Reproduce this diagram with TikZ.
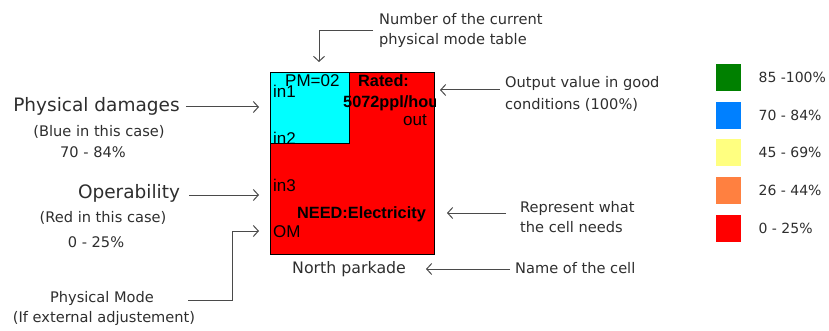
\documentclass[tikz,border=0pt]{standalone}
\usepackage{fontspec}
\setmainfont{DejaVu Sans}
\newfontfamily\arialfont{Liberation Sans}
\usetikzlibrary{arrows.meta}
\definecolor{annot}{HTML}{2E2E2E}
\definecolor{conn}{HTML}{4A4A4A}
\definecolor{lgreen}{RGB}{0,128,0}
\definecolor{lblue}{RGB}{0,128,255}
\definecolor{lyellow}{RGB}{255,255,128}
\definecolor{lorange}{RGB}{255,128,64}
\definecolor{lred}{RGB}{255,0,0}
\definecolor{pmcyan}{RGB}{0,255,255}
\begin{document}
\begin{tikzpicture}[x=1pt,y=-1pt,
  arr/.style={draw=conn, line width=1pt, -{Straight Barb[length=5pt,width=11pt,line width=1pt]}},
  ann/.style={inner sep=0pt, text=annot, font=\fontsize{14.6}{17}\selectfont, anchor=base},
  annl/.style={ann, anchor=base west},
  big/.style={inner sep=0pt, text=annot, font=\fontsize{18.5}{22}\selectfont, anchor=base},
  cellt/.style={inner sep=0pt, font=\arialfont\fontsize{17}{20}\selectfont, anchor=base west},
  boldt/.style={inner sep=0pt, font=\arialfont\bfseries\fontsize{16.3}{19}\selectfont, anchor=base west},
  boxst/.style={draw=black, line width=1pt, inner sep=0pt, anchor=north west},
  legbox/.style={minimum width=25pt, minimum height=27pt, inner sep=0pt, anchor=north west},
  legt/.style={inner sep=0pt, text=annot, font=\fontsize{14}{17}\selectfont, anchor=west}]
\useasboundingbox (0,0) rectangle (829,331);

% the cell
\node[boxst, fill=lred, minimum width=164pt, minimum height=182pt] (cell) at (270,72) {};
\node[boxst, fill=pmcyan, minimum width=79pt, minimum height=71pt] (pmbox) at (270,72) {};

\begin{scope}
  \clip (cell.north west) rectangle (cell.south east);
  \node[cellt] (pm) at (285,87) {PM=02};
  \node[cellt] (in1) at (273,98) {in1};
  \node[boldt] (rated) at (358,87) {Rated:};
  \node[boldt] (rate) at (343,108) {5072ppl/hou};
  \node[cellt] (out) at (403,126) {out};
  \node[cellt] (in2) at (273,145) {in2};
  \node[cellt] (in3) at (273,192) {in3};
  \node[boldt] (need) at (297,218) {NEED:Electricity};
  \node[cellt] (om) at (273,237) {OM};
\end{scope}
\node[inner sep=0pt, text=annot, font=\fontsize{15.8}{18}\selectfont, anchor=base west] (name) at (292,273) {North parkade};

% top annotation
\node[annl] (num1) at (379,25) {Number of the current};
\node[annl] (num2) at (379,45) {physical mode table};
\coordinate (numk) at (319,31);
\coordinate (numtip) at (319,62);
\draw[arr, shorten <=6pt] (num1.west |- numk) -- (numk) -- (numtip);

% right annotations
\node[annl] (outv1) at (505,88) {Output value in good};
\node[annl] (outv2) at (505,110) {conditions (100\%)};
\coordinate (outtip) at (440,90);
\draw[arr, shorten <=5pt] (outv1.west |- outtip) -- (outtip);

\node[annl] (rep1) at (520,212) {Represent what};
\node[annl] (rep2) at (520,232) {the cell needs};
\coordinate (reptip) at (447,213);
\draw[arr, shorten <=14pt] (rep1.west |- reptip) -- (reptip);

\node[annl] (namec) at (515,273) {Name of the cell};
\coordinate (nametip) at (426,269);
\draw[arr, shorten <=5pt] (namec.west |- nametip) -- (nametip);

% left annotations
\node[big] (pd) at (96.5,112) {Physical damages};
\node[ann] (pd2) at (99,137) {(Blue in this case)};
\node[ann] (pd3) at (93,158) {70 - 84\%};
\coordinate (pdtip) at (259,107);
\draw[arr, shorten <=6pt] (pd.east |- pdtip) -- (pdtip);

\node[big] (op) at (129,198) {Operability};
\node[ann] (op2) at (103,222) {(Red in this case)};
\node[ann] (op3) at (96,247) {0 - 25\%};
\coordinate (optip) at (259,195);
\draw[arr, shorten <=9pt] (op.east |- optip) -- (optip);

\node[ann] (pmd) at (102,302) {Physical Mode};
\node[ann] (pmd2) at (104,322) {(If external adjustement)};
\coordinate (pmk) at (232,300);
\coordinate (pmtip) at (259,231);
\draw[arr, shorten <=34pt] (pmd.east |- pmk) -- (pmk) |- (pmtip);

% legend
\node[legbox, fill=lgreen] (lg1) at (716,64) {};
\node[legbox, fill=lblue] (lg2) at (716,102) {};
\node[legbox, fill=lyellow] (lg3) at (716,139) {};
\node[legbox, fill=lorange] (lg4) at (716,177) {};
\node[legbox, fill=lred] (lg5) at (716,215) {};
\node[legt] (lt1) at ([xshift=17pt]lg1.east) {85 -100\%};
\node[legt] (lt2) at ([xshift=17pt]lg2.east) {70 - 84\%};
\node[legt] (lt3) at ([xshift=17pt]lg3.east) {45 - 69\%};
\node[legt] (lt4) at ([xshift=17pt]lg4.east) {26 - 44\%};
\node[legt] (lt5) at ([xshift=17pt]lg5.east) {0 - 25\%};
\end{tikzpicture}
\end{document}
